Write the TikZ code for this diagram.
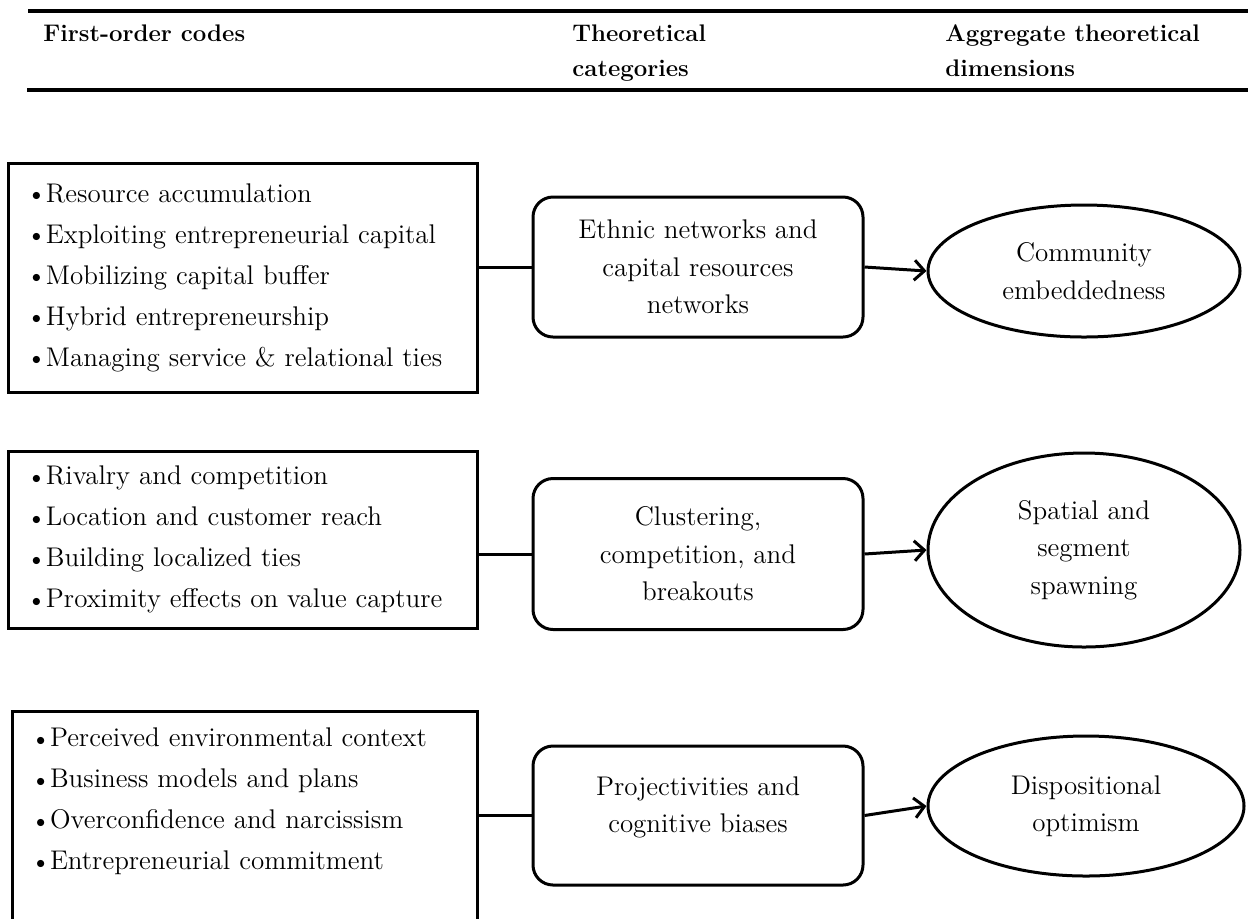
\documentclass[tikz,border=0pt]{standalone}
\usetikzlibrary{shapes.geometric,arrows.meta}
\newcommand{\codebul}{\makebox[7pt][l]{\raisebox{0.6pt}{\small$\bullet$}}}
\tikzset{
    headtext/.style={anchor=north west, inner sep=0pt, align=left, font=\fontsize{12}{17.5}\selectfont\bfseries},
    codebox/.style={draw, line width=1.5pt, align=left, inner xsep=12pt, text width=210.5pt, font=\fontsize{13.5}{20.5}\selectfont},
    catbox/.style={draw, line width=1.5pt, rounded corners=10pt, align=center, minimum width=165pt, font=\fontsize{13.5}{18.75}\selectfont},
    dimbox/.style={draw, ellipse, line width=1.5pt, inner sep=0pt, align=center, minimum width=156pt, font=\fontsize{13.5}{18.75}\selectfont},
    link/.style={line width=1.5pt},
    feed/.style={line width=1.5pt, -{Straight Barb[length=5pt, width=10pt]}}
}
\begin{document}
\begin{tikzpicture}[x=0.5pt, y=-0.5pt]
    \useasboundingbox (0, 0) rectangle (1248, 918);
    % table head
    \draw[line width=2pt] (28, 11) -- (1248, 11);
    \draw[line width=2pt] (27, 90) -- (1248, 90);
    \node[headtext] (hcodes) at (43, 24) {First-order codes};
    \node[headtext] (hcats) at (572, 24) {Theoretical\\categories};
    \node[headtext] (hdims) at (945, 24) {Aggregate theoretical\\dimensions};
    % community embeddedness
    \node[codebox, minimum height=114.5pt] (codes1) at (242.5, 277.5) {\codebul Resource accumulation\\ \codebul Exploiting entrepreneurial capital\\ \codebul Mobilizing capital buffer\\ \codebul Hybrid entrepreneurship\\ \codebul Managing service \& relational ties};
    \node[catbox, minimum height=70pt] (cat1) at (698, 267) {Ethnic networks and\\capital resources\\networks};
    \node[dimbox, minimum height=66pt] (dim1) at (1084, 271) {Community\\embeddedness};
    \draw[link] (codes1.east |- cat1.west) -- (cat1.west);
    \draw[feed] (cat1.east) -- (dim1.west);
    % spatial and segment spawning
    \node[codebox, minimum height=88.5pt] (codes2) at (242.5, 539.5) {\codebul Rivalry and competition\\ \codebul Location and customer reach\\ \codebul Building localized ties\\ \codebul Proximity effects on value capture};
    \node[catbox, minimum height=75.5pt] (cat2) at (698, 554) {Clustering,\\competition, and\\breakouts};
    \node[dimbox, minimum height=97pt] (dim2) at (1084, 550) {Spatial and\\segment\\spawning};
    \draw[link] (codes2.east |- cat2.west) -- (cat2.west);
    \draw[feed] (cat2.east) -- (dim2.west);
    % dispositional optimism
    \node[codebox, text width=208.5pt, minimum height=114pt] (codes3) at (244.5, 825) {\codebul Perceived environmental context\\ \codebul Business models and plans\\ \codebul Overconfidence and narcissism\\ \codebul Entrepreneurial commitment\\ \strut};
    \node[catbox, minimum height=69.5pt] (cat3) at (698, 815.5) {Projectivities and\\cognitive biases\\[-8pt]\mbox{}};
    \node[dimbox, minimum width=158pt, minimum height=70pt] (dim3) at (1086, 806) {Dispositional\\optimism};
    \draw[link] (codes3.east |- cat3.west) -- (cat3.west);
    \draw[feed] (cat3.east) -- (dim3.west);
\end{tikzpicture}
\end{document}
